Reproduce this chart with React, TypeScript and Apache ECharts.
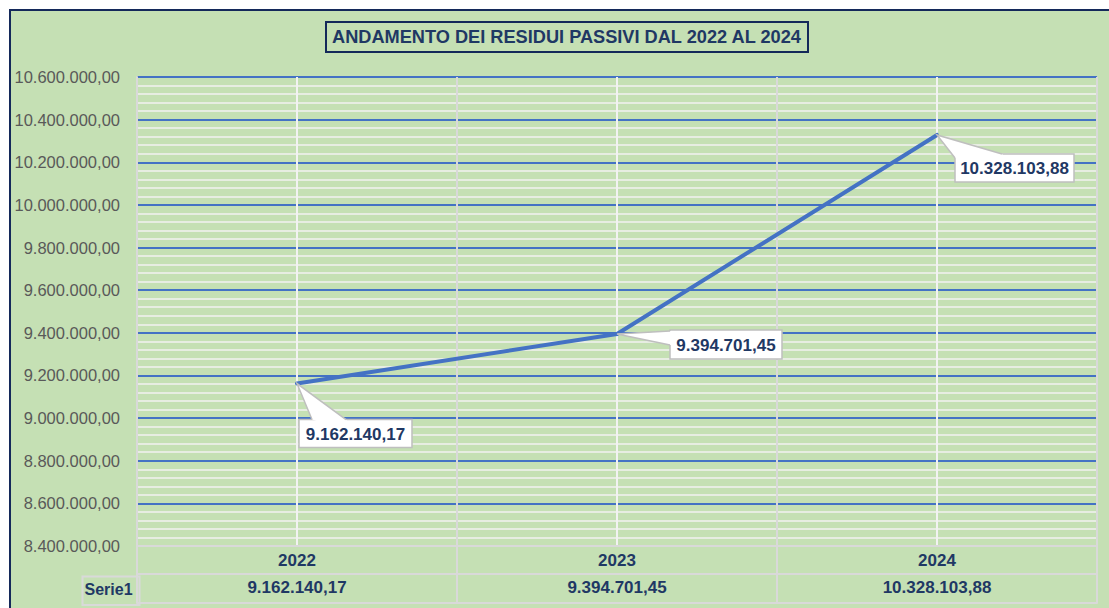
import React, { useEffect, useRef } from "react";
import * as echarts from "echarts";

// ---- data ----
const YEARS = ["2022", "2023", "2024"];
const VALUES = [9162140.17, 9394701.45, 10328103.88];
const SERIES_NAME = "Serie1";
const TITLE = "ANDAMENTO DEI RESIDUI PASSIVI DAL 2022 AL 2024";
const Y_MIN = 8400000;
const Y_MAX = 10600000;
const Y_STEP = 200000;

// ---- style ----
const NAVY = "#1f3864";
const BORDER_NAVY = "#14295a";
const BLUE = "#4472c4";
const GRAY = "#d9d9d9";
const MINOR = "#f2f2f2";
const GREEN = "#c5e0b4";
const FONT = '"Liberation Sans", Arial, sans-serif';

// callout layout (box top-left offset from the point, box size, wedge entry points relative to box)
const CALLOUTS = [
  { dx: 2, dy: 36, w: 113, h: 28, e1: [13, 0], e2: [47, 0] },
  { dx: 53, dy: -4, w: 112, h: 29, e1: [0, 1], e2: [0, 15] },
  { dx: 18, dy: 19, w: 119, h: 28, e1: [47, 0], e2: [0, 4] },
];

function fmtIt(v: number): string {
  const [i, d] = v.toFixed(2).split(".");
  return i.replace(/\B(?=(\d{3})+(?!\d))/g, ".") + "," + d;
}

export default function App() {
  const ref = useRef<HTMLDivElement>(null);

  useEffect(() => {
    if (!ref.current) return;
    const chart = echarts.init(ref.current, undefined, { renderer: "svg" });
    const labelBase = { fontFamily: FONT, fontWeight: "bold" as const, fontSize: 17, color: NAVY };
    const option: any = {
      animation: false,
      backgroundColor: "transparent",
      title: {
        text: TITLE,
        left: 326,
        top: 22,
        padding: [6, 6],
        borderColor: BORDER_NAVY,
        borderWidth: 2,
        textStyle: { fontFamily: FONT, fontWeight: "bold", fontSize: 18.2, color: NAVY },
      },
      grid: {
        left: 137,
        right: 12,
        top: 77,
        bottom: 62,
        containLabel: false,
        outerBoundsMode: "none",
      },
      xAxis: [
        {
          type: "category",
          data: YEARS,
          position: "bottom",
          boundaryGap: true,
          axisLine: { show: true, onZero: false, lineStyle: { color: GRAY, width: 2 } },
          axisTick: { show: true, interval: 0, length: 57, lineStyle: { color: GRAY, width: 2 } },
          axisLabel: { ...labelBase, interval: 0, margin: 14, verticalAlign: "middle" },
          splitLine: { show: false },
        },
        {
          type: "category",
          data: VALUES.map(fmtIt),
          position: "bottom",
          offset: 28,
          boundaryGap: true,
          axisLine: { show: true, onZero: false, lineStyle: { color: GRAY, width: 2 } },
          axisTick: { show: false },
          axisLabel: { ...labelBase, interval: 0, margin: 13, verticalAlign: "middle" },
          splitLine: { show: false },
        },
        {
          type: "category",
          data: YEARS,
          position: "bottom",
          offset: 56.5,
          boundaryGap: true,
          axisLine: { show: true, onZero: false, lineStyle: { color: GRAY, width: 2 } },
          axisTick: { show: false },
          axisLabel: { show: false },
          splitLine: { show: false },
        },
        {
          type: "value",
          position: "top",
          min: 0,
          max: YEARS.length * 2,
          interval: 1,
          axisLine: { show: false },
          axisTick: { show: false },
          axisLabel: { show: false },
          splitLine: { show: true, lineStyle: { color: [GRAY, MINOR], width: 2 } },
        },
      ],
      yAxis: {
        type: "value",
        min: Y_MIN,
        max: Y_MAX,
        interval: Y_STEP,
        axisLine: { show: true, onZero: false, lineStyle: { color: GRAY, width: 2 } },
        axisTick: { show: false },
        axisLabel: {
          formatter: (v: number) => fmtIt(v),
          color: "#595959",
          fontSize: 16.5,
          fontFamily: FONT,
          margin: 17,
        },
        splitLine: { show: true, showMinLine: false, lineStyle: { color: BLUE, width: 2 } },
        minorTick: { show: false, splitNumber: 5 },
        minorSplitLine: { show: true, lineStyle: { color: MINOR, width: 1.6 } },
      },
      series: [
        {
          name: SERIES_NAME,
          type: "line",
          xAxisIndex: 0,
          yAxisIndex: 0,
          data: VALUES,
          symbol: "none",
          lineStyle: { color: BLUE, width: 4, cap: "round", join: "round" },
          z: 3,
        },
        {
          type: "custom",
          xAxisIndex: 0,
          yAxisIndex: 0,
          data: VALUES.map((v, i) => [i, v]),
          encode: { x: 0, y: 1 },
          silent: true,
          z: 10,
          renderItem: (params: any, api: any) => {
            const i = params.dataIndex;
            const v = api.value(1) as number;
            const p = api.coord([api.value(0), v]);
            const c = CALLOUTS[i];
            const bx = p[0] + c.dx;
            const by = p[1] + c.dy;
            const e1 = [bx + c.e1[0], by + c.e1[1]];
            const e2 = [bx + c.e2[0], by + c.e2[1]];
            const mid = [bx + c.w / 2, by + c.h / 2];
            return {
              type: "group",
              children: [
                {
                  type: "rect",
                  shape: { x: bx, y: by, width: c.w, height: c.h },
                  style: { fill: "#ffffff", stroke: "#bfbfbf", lineWidth: 1.5 },
                },
                {
                  type: "polygon",
                  shape: { points: [p, e1, mid, e2] },
                  style: { fill: "#ffffff", stroke: "none" },
                },
                {
                  type: "polyline",
                  shape: { points: [e1, p, e2] },
                  style: { fill: "none", stroke: "#bfbfbf", lineWidth: 1.5 },
                },
                {
                  type: "text",
                  style: {
                    text: fmtIt(v),
                    x: mid[0],
                    y: mid[1] + 1,
                    align: "center",
                    verticalAlign: "middle",
                    fill: NAVY,
                    font: 'bold 17px "Liberation Sans", Arial, sans-serif',
                  },
                },
              ],
            };
          },
        },
      ],
      graphic: [
        {
          type: "rect",
          left: 80,
          top: 574,
          shape: { width: 57, height: 28.5 },
          style: { fill: "none", stroke: GRAY, lineWidth: 2 },
          z: 5,
        },
        {
          type: "text",
          x: 108.5,
          y: 589,
          style: {
            text: SERIES_NAME,
            align: "center",
            verticalAlign: "middle",
            fill: NAVY,
            font: 'bold 16px "Liberation Sans", Arial, sans-serif',
          },
          z: 5,
        },
      ],
    };
    chart.setOption(option);
    return () => chart.dispose();
  }, []);

  return (
    <div style={{ position: "fixed", left: 0, top: 0, width: 1109, height: 608, background: "#ffffff", overflow: "hidden" }}>
      <div
        style={{
          position: "absolute",
          left: 9,
          top: 9,
          right: 0,
          bottom: 0,
          background: GREEN,
          borderLeft: `2px solid ${BORDER_NAVY}`,
          borderTop: `2px solid ${BORDER_NAVY}`,
        }}
      />
      <div ref={ref} style={{ position: "absolute", left: 0, top: 0, width: 1109, height: 608 }} />
    </div>
  );
}
